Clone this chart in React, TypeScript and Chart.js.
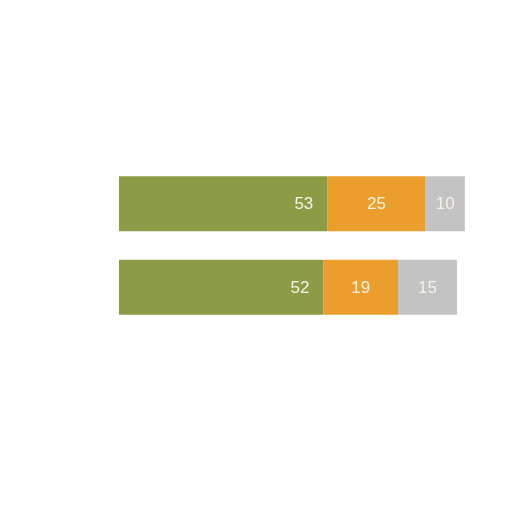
import { useRef, useEffect } from "react";
import Chart, { ChartConfiguration, Plugin } from "chart.js/auto";

const categories = ["Row 1", "Row 2"];
const firstValues = [53, 52];
const secondValues = [25, 19];
const thirdValues = [10, 15];
const seriesNames = ["First", "Second", "Third"];
const seriesColors = ["#8c9b45", "#eb9e2c", "#c3c3c3"];

const segmentLabels: Plugin<"bar"> = {
  id: "segmentLabels",
  afterDatasetsDraw(chart) {
    const ctx = chart.ctx;
    ctx.save();
    ctx.font = '17px "Liberation Sans", Arial, sans-serif';
    ctx.fillStyle = "#f6f2e6";
    ctx.textBaseline = "middle";
    chart.data.datasets.forEach((ds, di) => {
      const meta = chart.getDatasetMeta(di);
      meta.data.forEach((el, i) => {
        const bar = el as unknown as { x: number; y: number; base: number };
        const value = String(ds.data[i]);
        if (di === 0) {
          ctx.textAlign = "right";
          ctx.fillText(value, bar.x - 14, bar.y + 1);
        } else {
          ctx.textAlign = "center";
          ctx.fillText(value, (bar.x + bar.base) / 2, bar.y + 1);
        }
      });
    });
    ctx.restore();
  },
};

const App = () => {
  const chartRef = useRef<HTMLCanvasElement | null>(null);
  const chartInstance = useRef<Chart<"bar", number[], string> | null>(null);

  useEffect(() => {
    if (chartInstance.current) {
      chartInstance.current.destroy();
    }
    const myChartRef = chartRef.current?.getContext("2d");
    if (myChartRef) {
      const values = [firstValues, secondValues, thirdValues];
      const chartConfig: ChartConfiguration<"bar", number[], string> = {
        type: "bar",
        data: {
          labels: categories,
          datasets: values.map((data, i) => ({
            label: seriesNames[i],
            data,
            backgroundColor: seriesColors[i],
            borderWidth: 0,
            categoryPercentage: 1,
            barPercentage: 0.66,
          })),
        },
        options: {
          indexAxis: "y",
          responsive: false,
          animation: false,
          layout: { padding: { left: 119, right: 0, top: 162, bottom: 183 } },
          plugins: {
            legend: { display: false },
            tooltip: { enabled: false },
          },
          scales: {
            x: { stacked: true, min: 0, max: 100, display: false },
            y: { stacked: true, display: false },
          },
        },
        plugins: [segmentLabels],
      };
      chartInstance.current = new Chart(myChartRef, chartConfig);
    }
    return () => {
      if (chartInstance.current) {
        chartInstance.current.destroy();
      }
    };
  }, []);

  return (
    <div style={{ position: "fixed", left: 0, top: 0, width: 512, height: 512, background: "#ffffff" }}>
      <canvas ref={chartRef} width={512} height={512}></canvas>
    </div>
  );
};

export default App;
